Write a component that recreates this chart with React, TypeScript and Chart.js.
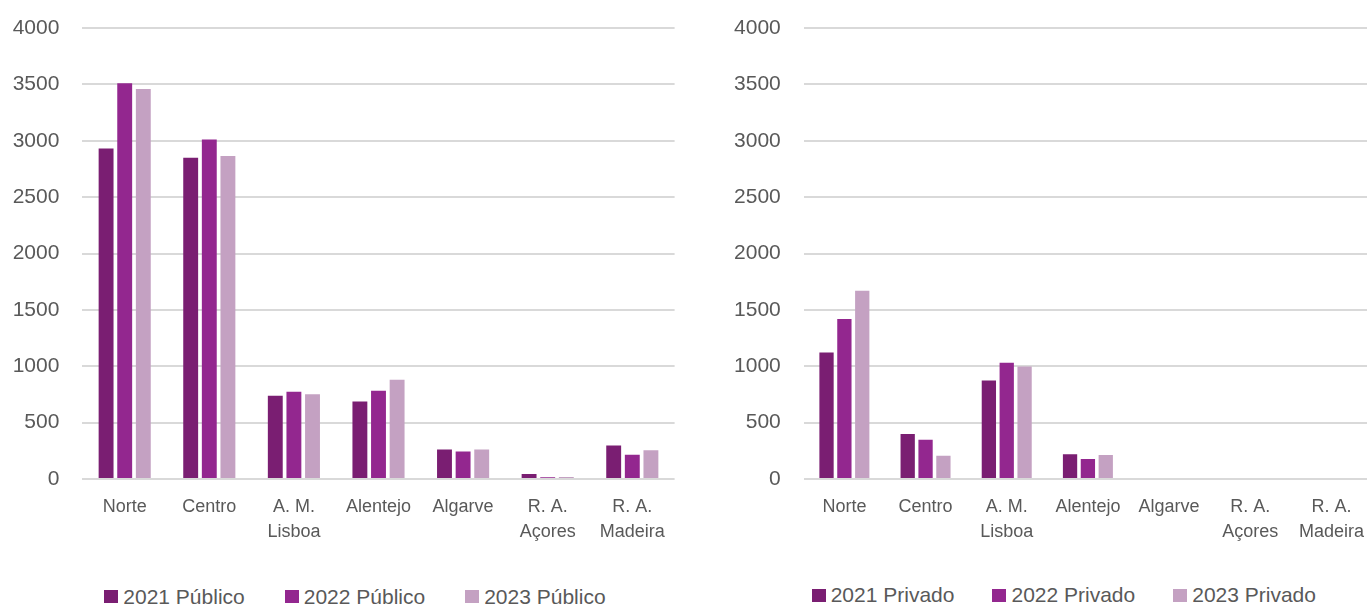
import React, { useEffect, useRef } from "react";
import { Chart, registerables } from "chart.js";

Chart.register(...registerables);

const FONT = "'Liberation Sans', Arial, sans-serif";
const TEXT_COLOR = "#595959";
const GRID_COLOR = "#d9d9d9";

const regions: (string | string[])[] = [
  "Norte",
  "Centro",
  ["A. M.", "Lisboa"],
  "Alentejo",
  "Algarve",
  ["R. A.", "Açores"],
  ["R. A.", "Madeira"],
];

const publico2021 = [2932, 2850, 739, 688, 261, 45, 297];
const publico2022 = [3509, 3012, 774, 783, 243, 15, 214];
const publico2023 = [3460, 2864, 751, 881, 261, 18, 255];

const privado2021 = [1121, 399, 873, 219, null, null, null];
const privado2022 = [1420, 349, 1030, 178, null, null, null];
const privado2023 = [1669, 207, 997, 213, null, null, null];

const seriesColors = ["#7a1e72", "#93278f", "#c4a1c2"];
const publicoLabels = ["2021 Público", "2022 Público", "2023 Público"];
const privadoLabels = ["2021 Privado", "2022 Privado", "2023 Privado"];

const Y_MIN = 0;
const Y_MAX = 4000;
const Y_STEP = 500;

type BarProps = {
  left: number;
  width: number;
  height: number;
  yAxisWidth: number;
  padRight: number;
  series: (number | null)[][];
  names: string[];
};

function BarChart({ left, width, height, yAxisWidth, padRight, series, names }: BarProps) {
  const ref = useRef<HTMLCanvasElement | null>(null);
  useEffect(() => {
    if (!ref.current) return;
    const chart = new Chart(ref.current, {
      type: "bar",
      data: {
        labels: regions,
        datasets: series.map((d, i) => ({
          label: names[i],
          data: d,
          backgroundColor: seriesColors[i],
          borderWidth: 0,
          categoryPercentage: 0.66,
          barPercentage: 0.8,
        })),
      },
      options: {
        responsive: false,
        animation: false,
        layout: { padding: { top: 28, right: padRight, bottom: 0, left: 0 } },
        plugins: { legend: { display: false }, tooltip: { enabled: false } },
        scales: {
          x: {
            grid: { display: false, drawTicks: false },
            border: { display: false },
            ticks: {
              color: TEXT_COLOR,
              font: { family: FONT, size: 18, lineHeight: 24.5 / 18 },
              padding: 16,
              maxRotation: 0,
              minRotation: 0,
              autoSkip: false,
            },
            afterFit: (s: any) => {
              s.height = height - 479;
              s.paddingLeft = 0;
              s.paddingRight = 0;
            },
          },
          y: {
            min: Y_MIN,
            max: Y_MAX,
            ticks: {
              stepSize: Y_STEP,
              color: TEXT_COLOR,
              font: { family: FONT, size: 21 },
              padding: 23,
              callback: (v: any) => String(v),
            },
            grid: { color: GRID_COLOR, lineWidth: 2, drawTicks: false },
            border: { display: false },
            afterFit: (s: any) => {
              s.width = yAxisWidth;
              s.paddingTop = 0;
              s.paddingBottom = 0;
            },
          },
        },
      },
    } as any);
    return () => chart.destroy();
  }, []);
  return (
    <canvas
      ref={ref}
      width={width}
      height={height}
      style={{ position: "absolute", left, top: 0, width, height }}
    />
  );
}

function Legend({ left, top, names, gap }: { left: number; top: number; names: string[]; gap: number }) {
  return (
    <div
      style={{
        position: "absolute",
        left,
        top,
        display: "flex",
        alignItems: "center",
        gap,
        fontFamily: FONT,
        fontSize: 21,
        lineHeight: "24px",
        color: TEXT_COLOR,
        whiteSpace: "nowrap",
      }}
    >
      {names.map((n, i) => (
        <div key={n} style={{ display: "flex", alignItems: "center" }}>
          <span style={{ display: "inline-block", width: 14, height: 13, background: seriesColors[i] }} />
          <span style={{ marginLeft: 5 }}>{n}</span>
        </div>
      ))}
    </div>
  );
}

export default function App() {
  return (
    <div
      style={{
        position: "fixed",
        left: 0,
        top: 0,
        width: 1367,
        height: 608,
        overflow: "hidden",
        background: "#ffffff",
      }}
    >
      <BarChart
        left={0}
        width={690}
        height={570}
        yAxisWidth={82.4}
        padRight={690 - 674.6}
        series={[publico2021, publico2022, publico2023]}
        names={publicoLabels}
      />
      <BarChart
        left={700}
        width={672}
        height={570}
        yAxisWidth={103.8}
        padRight={0}
        series={[privado2021, privado2022, privado2023]}
        names={privadoLabels}
      />
      <Legend left={104.3} top={584.7} names={publicoLabels} gap={40} />
      <Legend left={811.7} top={583.3} names={privadoLabels} gap={38} />
    </div>
  );
}
